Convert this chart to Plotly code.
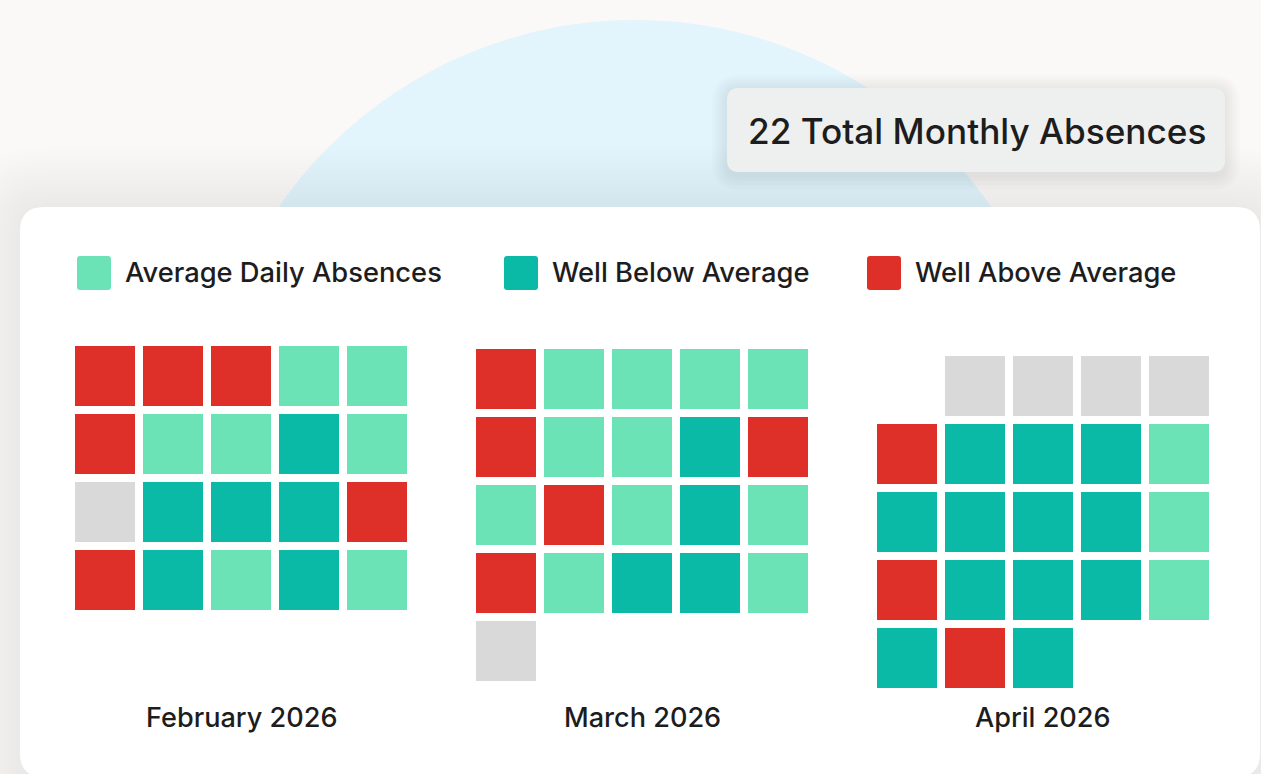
import plotly.graph_objects as go

W, H = 1261, 774

# ---- data -------------------------------------------------------------
categories = ["Average Daily Absences", "Well Below Average", "Well Above Average"]
cat_colors = {"A": "#6ce2b7", "B": "#0abaa6", "H": "#de2f28", "N": "#d9d9d9"}
legend_codes = ["A", "B", "H"]

months = ["February 2026", "March 2026", "April 2026"]
total_label = "22 Total Monthly Absences"

# A = average, B = well below, H = well above, N = no data, None = empty
feb = [
    ["H", "H", "H", "A", "A"],
    ["H", "A", "A", "B", "A"],
    ["N", "B", "B", "B", "H"],
    ["H", "B", "A", "B", "A"],
]
mar = [
    ["H", "A", "A", "A", "A"],
    ["H", "A", "A", "B", "H"],
    ["A", "H", "A", "B", "A"],
    ["H", "A", "B", "B", "A"],
    ["N", None, None, None, None],
]
apr = [
    [None, "N", "N", "N", "N"],
    ["H", "B", "B", "B", "A"],
    ["B", "B", "B", "B", "A"],
    ["H", "B", "B", "B", "A"],
    ["B", "H", "B", None, None],
]
grids = [feb, mar, apr]
code_names = {"A": categories[0], "B": categories[1], "H": categories[2], "N": "No data"}

# ---- layout helpers -----------------------------------------------------
def X(x):
    return x / W

def Y(y):
    return 1 - y / H

def rrect(x0, y0, x1, y1, r):
    return (f"M {X(x0 + r)},{Y(y0)} L {X(x1 - r)},{Y(y0)} "
            f"Q {X(x1)},{Y(y0)} {X(x1)},{Y(y0 + r)} L {X(x1)},{Y(y1 - r)} "
            f"Q {X(x1)},{Y(y1)} {X(x1 - r)},{Y(y1)} L {X(x0 + r)},{Y(y1)} "
            f"Q {X(x0)},{Y(y1)} {X(x0)},{Y(y1 - r)} L {X(x0)},{Y(y0 + r)} "
            f"Q {X(x0)},{Y(y0)} {X(x0 + r)},{Y(y0)} Z")

FONT = "Inter, 'Open Sans', sans-serif"
TXT = "#1d1d1d"

shapes = []
# blue circle
shapes.append(dict(type="circle", xref="paper", yref="paper",
                   x0=X(202), x1=X(1068), y0=Y(886), y1=Y(20),
                   fillcolor="#e2f4fc", line=dict(width=0), layer="below"))
# card shadow
for i in range(15, 0, -1):
    d = i * 4
    shapes.append(dict(type="path", xref="paper", yref="paper",
                       path=rrect(20 - d, 207 - d, 1260 + d, 800 + d, 24 + d),
                       fillcolor="rgba(0,0,0,0.0045)", line=dict(width=0), layer="below"))
# card
shapes.append(dict(type="path", xref="paper", yref="paper",
                   path=rrect(20, 207, 1260, 777, 24),
                   fillcolor="#ffffff", line=dict(width=0), layer="below"))
# label box shadow
for i in range(6, 0, -1):
    d = i * 2.5
    shapes.append(dict(type="path", xref="paper", yref="paper",
                       path=rrect(727 - d, 90 - d, 1225 + d, 175 + d, 12 + d),
                       fillcolor="rgba(0,0,0,0.011)", line=dict(width=0), layer="below"))
shapes.append(dict(type="path", xref="paper", yref="paper",
                   path=rrect(727, 88, 1225, 172, 12),
                   fillcolor="#eef0f0", line=dict(width=0), layer="below"))

annotations = [dict(xref="paper", yref="paper", x=X(746), y=Y(131), xanchor="left",
                    yanchor="middle", text=total_label, showarrow=False,
                    font=dict(family=FONT, size=35.2, color=TXT, weight=500))]

# legend
leg_x = [77, 504, 867]
for code, name, lx in zip(legend_codes, categories, leg_x):
    shapes.append(dict(type="path", xref="paper", yref="paper",
                       path=rrect(lx, 256, lx + 34, 290, 3),
                       fillcolor=cat_colors[code], line=dict(width=0), layer="below"))
    annotations.append(dict(xref="paper", yref="paper", x=X(lx + 46), y=Y(273),
                            xanchor="left", yanchor="middle", text=name, showarrow=False,
                            font=dict(family=FONT, size=27.3, color=TXT, weight=500)))

# ---- month grids ---------------------------------------------------------
fig = go.Figure()
grid_left = [71, 472, 873]
grid_top = [342, 345, 352]
cell = 68
layout_axes = {}
for k, (grid, name) in enumerate(zip(grids, months)):
    xs, ys, cols, txt = [], [], [], []
    for r, row in enumerate(grid):
        for c, code in enumerate(row):
            if code is None:
                continue
            xs.append(c)
            ys.append(r)
            cols.append(cat_colors[code])
            txt.append(code_names[code])
    sfx = "" if k == 0 else str(k + 1)
    fig.add_trace(go.Scatter(
        x=xs, y=ys, mode="markers", xaxis="x" + sfx, yaxis="y" + sfx,
        marker=dict(symbol="square", size=60, color=cols, line=dict(width=0)),
        text=txt, hovertemplate="%{text}<extra>" + name + "</extra>",
        showlegend=False, cliponaxis=False))
    x0 = grid_left[k]
    y0 = grid_top[k]
    layout_axes["xaxis" + sfx] = dict(domain=[X(x0), X(x0 + 5 * cell)], range=[-0.5, 4.5],
                                      visible=False, fixedrange=True, anchor="y" + sfx)
    layout_axes["yaxis" + sfx] = dict(domain=[Y(y0 + 5 * cell), Y(y0)], range=[4.5, -0.5],
                                      visible=False, fixedrange=True, anchor="x" + sfx)
    annotations.append(dict(xref="x" + sfx + " domain", yref="paper", x=0.5, y=Y(717),
                            xanchor="center", yanchor="middle", text=name, showarrow=False,
                            font=dict(family=FONT, size=27.1, color=TXT, weight=500)))

fig.update_layout(
    width=W, height=H, margin=dict(l=0, r=0, t=0, b=0),
    paper_bgcolor="#faf9f7", plot_bgcolor="rgba(0,0,0,0)",
    shapes=shapes, annotations=annotations, **layout_axes,
)
fig.write_html("out.html", config={"displayModeBar": False},
               post_script="document.body.style.margin='0';document.body.style.overflow='hidden';")
